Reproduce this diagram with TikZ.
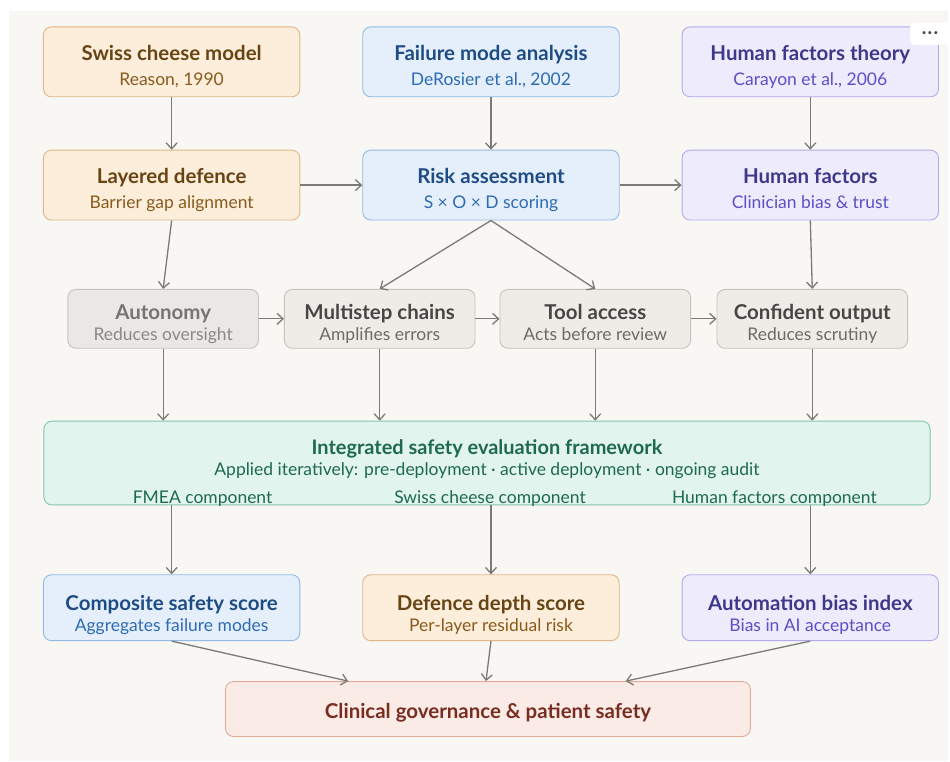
\documentclass[tikz,border=0pt]{standalone}
\usepackage{fontspec}
\setmainfont{Lato}
\usetikzlibrary{arrows.meta}
\definecolor{panelbg}{HTML}{F8F7F4}
\definecolor{orfill}{HTML}{FCEEDB}
\definecolor{orline}{HTML}{DDB785}
\definecolor{ortitle}{HTML}{684414}
\definecolor{orsub}{HTML}{8A5A1C}
\definecolor{blfill}{HTML}{E4EFFB}
\definecolor{blline}{HTML}{90BBE6}
\definecolor{bltitle}{HTML}{1E4C84}
\definecolor{blsub}{HTML}{2E6BB3}
\definecolor{pufill}{HTML}{EEEBFC}
\definecolor{puline}{HTML}{B2AAEE}
\definecolor{putitle}{HTML}{3D388A}
\definecolor{pusub}{HTML}{5B50C6}
\definecolor{grfill}{HTML}{EEECE7}
\definecolor{grline}{HTML}{C6C3BC}
\definecolor{grtitle}{HTML}{474644}
\definecolor{grsub}{HTML}{6D6B67}
\definecolor{gnfill}{HTML}{E2F4EE}
\definecolor{gnline}{HTML}{80C6AC}
\definecolor{gntext}{HTML}{1D6A4E}
\definecolor{rdfill}{HTML}{FBEBE6}
\definecolor{rdline}{HTML}{E2A898}
\definecolor{rdtitle}{HTML}{782D20}
\definecolor{arrowgray}{HTML}{7B7A77}
% second line of a box
\newcommand\boxsub[2]{{\color{#1}\fontsize{17.5}{21}\selectfont\mdseries #2}}

\begin{document}
\begin{tikzpicture}[x=1pt, y=-1pt,
                    box/.style={draw, rounded corners=8pt, line width=0.9pt, align=center,
                                inner sep=0pt, minimum width=257, minimum height=70,
                                font=\fontsize{20.5}{25}\selectfont\bfseries,
                                text height=46.6pt, text depth=0pt},
                    orbox/.style={box, fill=orfill, draw=orline, text=ortitle},
                    blbox/.style={box, fill=blfill, draw=blline, text=bltitle},
                    pubox/.style={box, fill=pufill, draw=puline, text=putitle},
                    grbox/.style={box, fill=grfill, draw=grline, text=grtitle,
                                  minimum width=191, minimum height=59,
                                  font=\fontsize{20.5}{21}\selectfont\bfseries,
                                  text height=43.6pt},
                    lowbox/.style={minimum height=66, font=\fontsize{20.5}{21.5}\selectfont\bfseries,
                                   text height=48.6pt},
                    conn/.style={draw=arrowgray, line width=1.3pt,
                                 -{Straight Barb[length=6pt,width=11pt]}},
                    fwtext/.style={text=gntext, inner sep=0pt}]
% Fundo
  \fill[white] (0,0) rectangle (950,763);
  \fill[panelbg] (9,11) rectangle (950,763);

% Teorias de base
  \node[orbox] (swiss) at (172,62) {Swiss cheese model\\\boxsub{orsub}{Reason, 1990}};
  \node[blbox] (fmode) at (492,62) {Failure mode analysis\\\boxsub{blsub}{DeRosier et al., 2002}};
  \node[pubox] (hftheory) at (812,62) {Human factors theory\\\boxsub{pusub}{Carayon et al., 2006}};
  \node[fill=white, rounded corners=4pt, minimum width=40, minimum height=22,
        text=grtitle, font=\fontsize{8}{8}\selectfont] (menu) at (932,34) {•\,•\,•};

% Conceitos
  \node[orbox] (layered) at (172,185.5) {Layered defence\\\boxsub{orsub}{Barrier gap alignment}};
  \node[blbox] (risk) at (492,185.5) {Risk assessment\\\boxsub{blsub}{S × O × D scoring}};
  \node[pubox] (human) at (812,185.5) {Human factors\\\boxsub{pusub}{Clinician bias \& trust}};

% Riscos de agentes
  \node[grbox, fill=grfill!92!black!60, text=grtitle!75] (auton) at (163.5,319.5) {Autonomy\\\boxsub{grsub!80}{Reduces oversight}};
  \node[grbox] (multi) at (380.5,319.5) {Multistep chains\\\boxsub{grsub}{Amplifies errors}};
  \node[grbox] (tool) at (596.5,319.5) {Tool access\\\boxsub{grsub}{Acts before review}};
  \node[grbox] (confid) at (814,319.5) {Confident output\\\boxsub{grsub}{Reduces scrutiny}};

% Framework integrado
  \node[box, fill=gnfill, draw=gnline, minimum width=888, minimum height=84, text height=0pt] (frame) at (488,464) {};
  \node[fwtext, font=\fontsize{20}{24}\selectfont\bfseries] (ftitle) at (488,450) {Integrated safety evaluation framework};
  \node[fwtext, font=\fontsize{17.5}{21}\selectfont] (fsub) at (488,472) {Applied iteratively: pre-deployment · active deployment · ongoing audit};
  \node[fwtext, font=\fontsize{17.5}{21}\selectfont] (fmeac) at (203,500) {FMEA component};
  \node[fwtext, font=\fontsize{17.5}{21}\selectfont] (swissc) at (491,500) {Swiss cheese component};
  \node[fwtext, font=\fontsize{17.5}{21}\selectfont] (humanc) at (776,500) {Human factors component};

% Métricas
  \node[blbox, lowbox] (compos) at (172,609) {Composite safety score\\\boxsub{blsub}{Aggregates failure modes}};
  \node[orbox, lowbox] (depth) at (492,609) {Defence depth score\\\boxsub{orsub}{Per-layer residual risk}};
  \node[pubox, lowbox] (bias) at (812,609) {Automation bias index\\\boxsub{pusub}{Bias in AI acceptance}};

  \node[box, fill=rdfill, draw=rdline, text=rdtitle, minimum width=526, minimum height=55,
        text height=19.6pt] (gov) at (489,710.5) {Clinical governance \& patient safety};

% Setas
  \draw[conn] (swiss) -- (layered);
  \draw[conn] (fmode) -- (risk);
  \draw[conn] (hftheory) -- (human);
  \draw[conn] (layered) -- (risk);
  \draw[conn] (risk) -- (human);
  \draw[conn] (layered.south) -- (auton.north);
  \draw[conn] (risk.south) -- (multi.north);
  \draw[conn] (risk.south) -- (tool.north);
  \draw[conn] (human.south) -- (confid.north);
  \draw[conn] (auton) -- (multi);
  \draw[conn] (multi) -- (tool);
  \draw[conn] (tool) -- (confid);
  \foreach \src in {auton, multi, tool, confid}
    \draw[conn] (\src.south) -- (\src.south |- frame.north);
  \draw[conn] (frame.south -| compos.north) -- (compos.north);
  \draw[conn] (frame.south -| depth.north) -- (depth.north);
  \draw[conn] (frame.south -| bias.north) -- (bias.north);
  \draw[conn] (compos.south) -- (gov.north -| 349,0);
  \draw[conn] (depth.south) -- (gov.north -| 487,0);
  \draw[conn] (bias.south) -- (gov.north -| 627,0);
\end{tikzpicture}
\end{document}
